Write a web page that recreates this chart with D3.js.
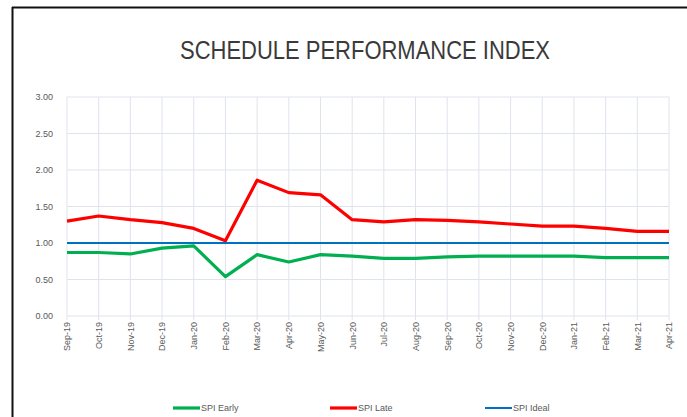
<!DOCTYPE html>
<html>
<head>
<meta charset="utf-8">
<script src="https://cdn.jsdelivr.net/npm/d3@7"></script>
<style>
  body { margin: 0; background: #fff; }
  svg { display: block; }
</style>
</head>
<body>
<svg id="chart" width="687" height="417"></svg>
<script>
// Data
const months = ['Sep-19', 'Oct-19', 'Nov-19', 'Dec-19', 'Jan-20', 'Feb-20', 'Mar-20', 'Apr-20', 'May-20', 'Jun-20',
    'Jul-20', 'Aug-20', 'Sep-20', 'Oct-20', 'Nov-20', 'Dec-20', 'Jan-21', 'Feb-21', 'Mar-21', 'Apr-21'];
const spiEarly = [0.87, 0.87, 0.85, 0.93, 0.96, 0.54, 0.84, 0.74, 0.84, 0.82,
    0.79, 0.79, 0.81, 0.82, 0.82, 0.82, 0.82, 0.80, 0.80, 0.80];
const spiLate = [1.30, 1.37, 1.32, 1.28, 1.20, 1.03, 1.86, 1.69, 1.66, 1.32,
    1.29, 1.32, 1.31, 1.29, 1.26, 1.23, 1.23, 1.20, 1.16, 1.16];
const spiIdeal = [1, 1, 1, 1, 1, 1, 1, 1, 1, 1, 1, 1, 1, 1, 1, 1, 1, 1, 1, 1];
const yTicks = [0, 0.5, 1, 1.5, 2, 2.5, 3];

const series = [
    {name: 'SPI Early', values: spiEarly, color: '#00b050', width: 3.2},
    {name: 'SPI Late', values: spiLate, color: '#ff0000', width: 3.2},
    {name: 'SPI Ideal', values: spiIdeal, color: '#0070c0', width: 2}
];

const svg = d3.select("#chart");
const font = "'Liberation Sans', Arial, sans-serif";

// outer frame (only top and left edges show in the crop)
svg.append("line").attr("x1", 12).attr("y1", 7.5).attr("x2", 687).attr("y2", 7.5)
    .attr("stroke", "#111").attr("stroke-width", 2);
svg.append("line").attr("x1", 12.5).attr("y1", 7).attr("x2", 12.5).attr("y2", 417)
    .attr("stroke", "#111").attr("stroke-width", 2);

// title, squeezed to look like the narrow font of the original
svg.append("text")
    .attr("x", 365).attr("y", 59)
    .attr("text-anchor", "middle")
    .attr("font-family", "'Liberation Sans Narrow', 'Arial Narrow', 'Liberation Sans', sans-serif")
    .attr("font-size", 25)
    .attr("textLength", 370)
    .attr("lengthAdjust", "spacingAndGlyphs")
    .attr("fill", "#3a3a3a")
    .text("SCHEDULE PERFORMANCE INDEX");

const margin = {top: 97, left: 67},
    width = 602, height = 219;

const x = d3.scalePoint().domain(months).range([0, width]);
const y = d3.scaleLinear().domain([0, 3]).range([height, 0]);

const g = svg.append("g")
    .attr("transform", "translate(" + margin.left + "," + margin.top + ")");

// grid
g.append("g").selectAll("line").data(yTicks).enter().append("line")
    .attr("x1", 0).attr("x2", width)
    .attr("y1", d => y(d)).attr("y2", d => y(d))
    .attr("stroke", "#dfe3ec").attr("stroke-width", 1);
g.append("g").selectAll("line").data(months).enter().append("line")
    .attr("x1", d => x(d)).attr("x2", d => x(d))
    .attr("y1", 0).attr("y2", height + 4)
    .attr("stroke", "#dfe3ec").attr("stroke-width", 1);

// y axis labels
const yAxis = g.append("g")
    .call(d3.axisLeft(y).tickValues(yTicks).tickFormat(d3.format(".2f")).tickSize(0).tickPadding(14));
yAxis.select(".domain").remove();
yAxis.selectAll("text")
    .attr("font-family", font).attr("font-size", 9).attr("fill", "#595959");

// x axis labels, rotated
const xAxis = g.append("g")
    .attr("transform", "translate(0," + height + ")")
    .call(d3.axisBottom(x).tickSize(0));
xAxis.select(".domain").remove();
xAxis.selectAll("text")
    .attr("font-family", font).attr("font-size", 9).attr("fill", "#595959")
    .attr("transform", "rotate(-90)")
    .attr("text-anchor", "end")
    .attr("dx", "-6")
    .attr("dy", "0.32em")
    .attr("y", 0);

// lines
const line = d3.line()
    .x((d, i) => x(months[i]))
    .y(d => y(d));

series.forEach(s => {
    g.append("path")
        .datum(s.values)
        .attr("fill", "none")
        .attr("stroke", s.color)
        .attr("stroke-width", s.width)
        .attr("stroke-linejoin", "round")
        .attr("d", line);
});

// legend
const legendX = [173, 330, 485];
const legend = svg.append("g").attr("transform", "translate(0,408)");
series.forEach((s, i) => {
    legend.append("line")
        .attr("x1", legendX[i]).attr("x2", legendX[i] + 27)
        .attr("y1", 0).attr("y2", 0)
        .attr("stroke", s.color).attr("stroke-width", s.width);
    legend.append("text")
        .attr("x", legendX[i] + 28).attr("y", 3)
        .attr("font-family", font).attr("font-size", 9).attr("fill", "#595959")
        .text(s.name);
});
</script>
</body>
</html>
